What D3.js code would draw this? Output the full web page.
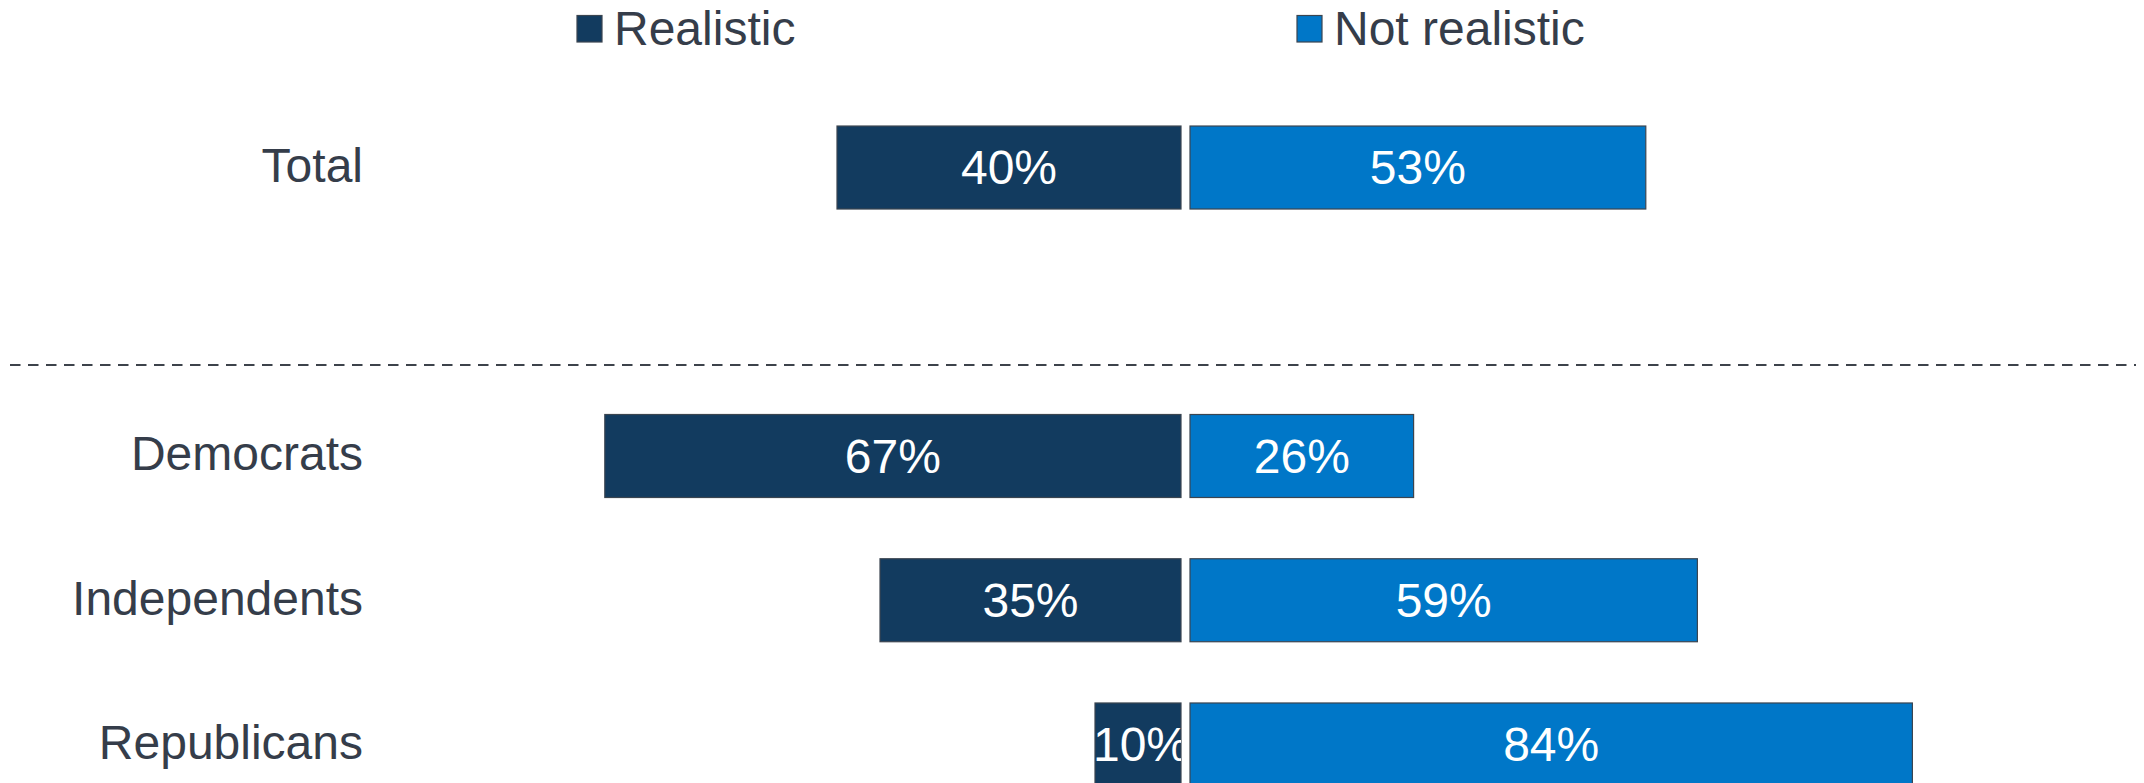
<!DOCTYPE html>
<html>
<head>
<meta charset="utf-8">
<script src="https://cdn.jsdelivr.net/npm/d3@7"></script>
<style>
  html, body { margin: 0; padding: 0; background: #ffffff; }
  svg { display: block; }
  text { font-family: "Liberation Sans", Arial, sans-serif; }
</style>
</head>
<body>
<svg id="chart" width="2144" height="783"></svg>
<script>
const categories = ["Total", "", "Democrats", "Independents", "Republicans"];
const realistic = [40, null, 67, 35, 10];
const notRealistic = [53, null, 26, 59, 84];
const seriesNames = ["Realistic", "Not realistic"];
const seriesColors = ["#123b5f", "#0077c8"];

const W = 2144, H = 783;
const svg = d3.select("#chart");

const y = d3.scaleBand()
  .domain(categories)
  .range([95.4, 816.6])
  .paddingInner(0.4246)
  .paddingOuter(0.2123);

const xLeft = d3.scaleLinear().domain([0, 100]).range([1181, 1181 - 860]);
const xRight = d3.scaleLinear().domain([0, 100]).range([1190, 1190 + 860]);

const textColor = "#353d4a";
const fontSize = 48;

// dashed separator
const sepY = y("Democrats") - 49.5;
svg.append("line")
  .attr("x1", 10).attr("x2", 2136)
  .attr("y1", sepY).attr("y2", sepY)
  .attr("stroke", "#3d434b")
  .attr("stroke-width", 2.2)
  .attr("stroke-dasharray", "10.5,7.5");

const rows = categories.map((c, i) => ({ cat: c, r: realistic[i], n: notRealistic[i], i }))
  .filter(d => d.r !== null);

const defs = svg.append("defs");

// category labels
svg.append("g").selectAll("text")
  .data(rows).join("text")
  .attr("x", 363)
  .attr("y", d => y(d.cat) + y.bandwidth() / 2)
  .attr("dy", "0.3em")
  .attr("text-anchor", "end")
  .attr("font-size", fontSize)
  .attr("fill", textColor)
  .text(d => d.cat);

function drawSeries(key, scale, color, side) {
  const g = svg.append("g");
  rows.forEach(d => {
    const v = d[key];
    const x0 = side === "left" ? scale(v) : scale(0);
    const w = Math.abs(scale(v) - scale(0));
    const yy = y(d.cat), h = y.bandwidth();
    const id = "clip-" + key + "-" + d.i;
    defs.append("clipPath").attr("id", id)
      .append("rect").attr("x", x0).attr("y", yy).attr("width", w).attr("height", h);
    g.append("rect")
      .attr("x", x0).attr("y", yy)
      .attr("width", w).attr("height", h)
      .attr("fill", color)
      .attr("stroke", "#3b4550")
      .attr("stroke-width", 1.2);
    g.append("text")
      .attr("clip-path", "url(#" + id + ")")
      .attr("x", x0 + w / 2 + (w < 100 ? 3 : 0))
      .attr("y", yy + h / 2)
      .attr("dy", "0.35em")
      .attr("text-anchor", "middle")
      .attr("font-size", fontSize)
      .attr("fill", "#ffffff")
      .text(v + "%");
  });
}
drawSeries("r", xLeft, seriesColors[0], "left");
drawSeries("n", xRight, seriesColors[1], "right");

// legend
const legendX = [577, 1297];
const lg = svg.append("g");
seriesNames.forEach((name, i) => {
  lg.append("rect")
    .attr("x", legendX[i]).attr("y", 15.5)
    .attr("width", 25).attr("height", 26.5)
    .attr("fill", seriesColors[i])
    .attr("stroke", "#3b4550").attr("stroke-width", 1.2);
  lg.append("text")
    .attr("x", legendX[i] + 37).attr("y", 45)
    .attr("font-size", fontSize)
    .attr("fill", textColor)
    .text(name);
});
</script>
</body>
</html>
